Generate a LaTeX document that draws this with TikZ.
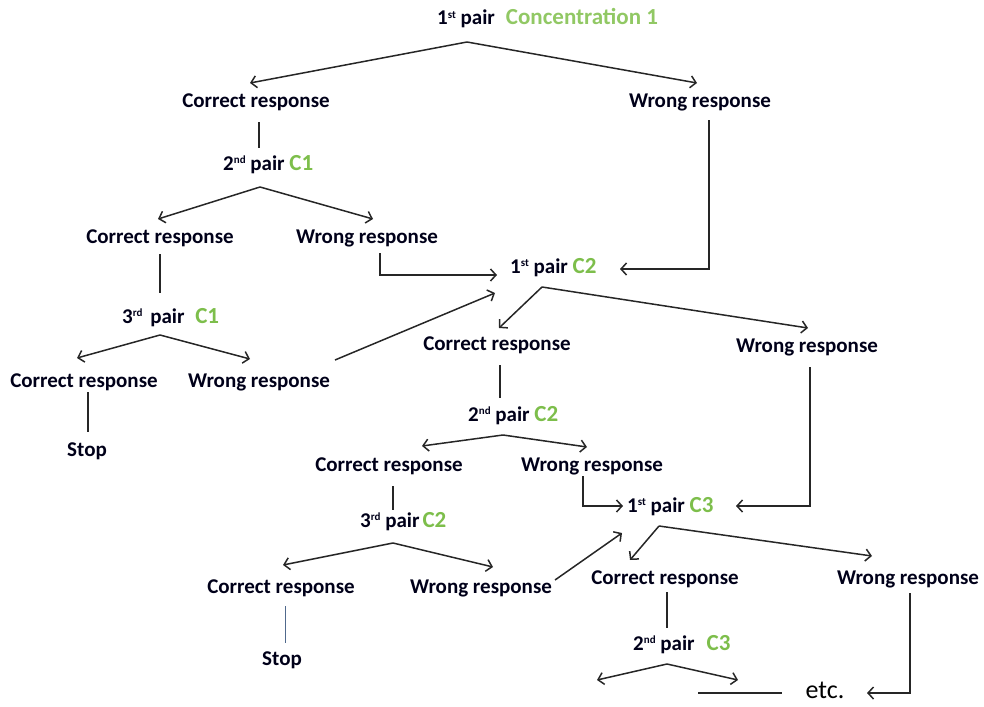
\documentclass[tikz,border=0pt]{standalone}
\usepackage{fontspec}
\setmainfont{Carlito}
\usetikzlibrary{arrows.meta}
\definecolor{cgreen}{RGB}{125,190,75}
\definecolor{tgreen}{RGB}{145,200,100}
\definecolor{stopblue}{RGB}{80,105,140}
\newcommand\sps[1]{\raisebox{6.5pt}{\fontsize{11}{12}\selectfont #1}}
\begin{document}
\begin{tikzpicture}[x=1pt,y=-1pt,
  lbl/.style={inner sep=0pt,font=\fontsize{21}{25}\bfseries\selectfont,text=black!90!blue},
  pr/.style={lbl,anchor=west,text height=14pt,text depth=4pt},
  conn/.style={line width=1.5pt,draw=black!85},
  arr/.style={conn,-{Straight Barb[length=5.5pt,width=12pt,line width=1.5pt]}}]
\useasboundingbox (0,0) rectangle (984,706);
% nodes
\node[pr] (t1) at (437,20) {1\sps{st} pair\hspace{11pt}{\color{tgreen}\fontsize{23}{27}\selectfont Concentration 1}};
\node[lbl] (cr1) at (256,102) {Correct response};
\node[lbl] (wr1) at (700,102) {Wrong response};
\node[pr] (p12) at (223,165) {2\sps{nd} pair {\color{cgreen}\fontsize{23}{27}\selectfont C1}};
\node[lbl] (cr2) at (160,238) {Correct response};
\node[lbl] (wr2) at (367,238) {Wrong response};
\node[pr] (p13) at (122,318) {3\sps{rd}\hspace{3pt} pair\hspace{6pt} {\color{cgreen}\fontsize{23}{27}\selectfont C1}};
\node[lbl] (cr3) at (84,382) {Correct response};
\node[lbl] (wr3) at (259,382) {Wrong response};
\node[lbl] (st1) at (87,451) {Stop};
\node[pr] (p21) at (510,268) {1\sps{st} pair {\color{cgreen}\fontsize{23}{27}\selectfont C2}};
\node[lbl] (cr4) at (497,345) {Correct response};
\node[lbl] (wr4) at (807,347) {Wrong response};
\node[pr] (p22) at (468,416) {2\sps{nd} pair {\color{cgreen}\fontsize{23}{27}\selectfont C2}};
\node[lbl] (cr5) at (389,466) {Correct response};
\node[lbl] (wr5) at (592,466) {Wrong response};
\node[pr] (p23) at (360,522) {3\sps{rd} pair\hspace{3pt}{\color{cgreen}\fontsize{23}{27}\selectfont C2}};
\node[lbl] (cr6) at (281,588) {Correct response};
\node[lbl] (wr6) at (481,588) {Wrong response};
\node[lbl] (st2) at (282,660) {Stop};
\node[pr] (p31) at (627,507) {1\sps{st} pair {\color{cgreen}\fontsize{23}{27}\selectfont C3}};
\node[lbl] (cr7) at (665,579) {Correct response};
\node[lbl] (wr7) at (908,579) {Wrong response};
\node[pr] (p32) at (633,645) {2\sps{nd} pair\hspace{12pt}{\color{cgreen}\fontsize{23}{27}\selectfont C3}};
\node[inner sep=0pt,font=\fontsize{26}{30}\selectfont] (etc) at (825,690) {etc.};
% coordinates
\coordinate (a1) at (467,42);  \coordinate (a1l) at (250,83);  \coordinate (a1r) at (697,83);
\coordinate (a2) at (260,187); \coordinate (a2l) at (158,219); \coordinate (a2r) at (373,219);
\coordinate (a3) at (160,335); \coordinate (a3l) at (77,358);  \coordinate (a3r) at (250,359);
\coordinate (a4) at (542,287); \coordinate (a4l) at (499,328); \coordinate (a4r) at (808,328);
\coordinate (a5) at (503,435); \coordinate (a5l) at (422,446); \coordinate (a5r) at (587,447);
\coordinate (a6) at (393,543); \coordinate (a6l) at (283,565); \coordinate (a6r) at (493,567);
\coordinate (a7) at (659,526); \coordinate (a7l) at (630,560); \coordinate (a7r) at (872,556);
\coordinate (a8) at (667,664); \coordinate (a8l) at (597,680); \coordinate (a8r) at (738,680);
\coordinate (in21a) at (497,275); \coordinate (in21b) at (620,269); \coordinate (in21c) at (495,293);
\coordinate (in31a) at (623,506); \coordinate (in31b) at (736,506); \coordinate (in31c) at (622,533);
\coordinate (etcin) at (867,693); \coordinate (etcl) at (698,693); \coordinate (etcr) at (782,693);
% tree branches
\foreach \a in {a1,a2,a3,a4,a5,a6,a7,a8}{
  \draw[arr] (\a) -- (\a l);
  \draw[arr] (\a) -- (\a r);
}
% verticals
\draw[conn] (259,122) -- (259,148);
\draw[conn] (160,254) -- (160,293);
\draw[conn] (88,392) -- (88,432);
\draw[conn] (500,365) -- (500,398);
\draw[conn] (393,486) -- (393,510);
\draw[line width=0.8pt,draw=stopblue] (285,606) -- (285,643);
\draw[conn] (667,592) -- (667,628);
% cross links
\draw[arr] (709,120) -- (709,269) -- (in21b);
\draw[arr] (380,253) -- (380,275) -- (in21a);
\draw[arr] (335,360) -- (in21c);
\draw[arr] (810,367) -- (810,506) -- (in31b);
\draw[arr] (583,476) -- (583,506) -- (in31a);
\draw[arr] (555,580) -- (in31c);
\draw[conn] (etcl) -- (etcr);
\draw[arr] (910,593) -- (910,693) -- (etcin);
\end{tikzpicture}
\end{document}
